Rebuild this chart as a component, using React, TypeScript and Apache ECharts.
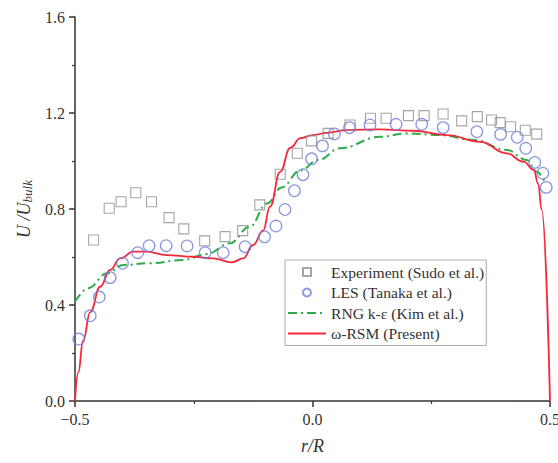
import React, { useEffect, useRef } from "react";
import * as echarts from "echarts";

const expR = [-0.461, -0.428, -0.403, -0.372, -0.339, -0.302, -0.271, -0.227, -0.184, -0.147, -0.111, -0.068, -0.032, -0.002, 0.033, 0.079, 0.122, 0.155, 0.202, 0.235, 0.275, 0.314, 0.347, 0.377, 0.395, 0.417, 0.448, 0.472];
const expU = [0.671, 0.803, 0.830, 0.868, 0.830, 0.764, 0.717, 0.667, 0.685, 0.710, 0.817, 0.945, 1.032, 1.084, 1.115, 1.150, 1.178, 1.178, 1.189, 1.189, 1.196, 1.167, 1.185, 1.171, 1.160, 1.143, 1.128, 1.112];

const lesR = [-0.492, -0.468, -0.449, -0.426, -0.400, -0.368, -0.344, -0.308, -0.264, -0.226, -0.188, -0.142, -0.101, -0.077, -0.058, -0.038, -0.020, -0.002, 0.021, 0.046, 0.078, 0.121, 0.176, 0.230, 0.275, 0.346, 0.396, 0.431, 0.449, 0.468, 0.485, 0.492];
const lesU = [0.258, 0.355, 0.433, 0.514, 0.574, 0.618, 0.647, 0.647, 0.646, 0.618, 0.618, 0.643, 0.684, 0.729, 0.798, 0.876, 0.943, 1.009, 1.063, 1.113, 1.139, 1.150, 1.153, 1.153, 1.139, 1.122, 1.111, 1.099, 1.053, 0.994, 0.949, 0.890];

const rngR = [-0.5, -0.472, -0.433, -0.398, -0.342, -0.272, -0.223, -0.174, -0.132, -0.096, -0.065, -0.026, 0.012, 0.058, 0.142, 0.198, 0.268, 0.339, 0.409, 0.451, 0.472, 0.489];
const rngU = [0.414, 0.47, 0.532, 0.567, 0.574, 0.588, 0.612, 0.657, 0.726, 0.823, 0.89, 0.96, 1.004, 1.053, 1.101, 1.115, 1.108, 1.088, 1.046, 1.004, 0.955, 0.914];

const rsmR = [-0.5, -0.493, -0.483, -0.468, -0.447, -0.426, -0.405, -0.377, -0.349, -0.307, -0.251, -0.209, -0.170, -0.146, -0.125, -0.104, -0.0895, -0.068, -0.047, -0.025, 0.0, 0.03, 0.072, 0.142, 0.212, 0.2825, 0.353, 0.409, 0.444, 0.466, 0.475, 0.4825, 0.5];
const rsmU = [0, 0.12, 0.25, 0.37, 0.476, 0.546, 0.594, 0.622, 0.622, 0.608, 0.601, 0.594, 0.578, 0.594, 0.65, 0.71, 0.81, 0.955, 1.055, 1.095, 1.108, 1.117, 1.129, 1.132, 1.126, 1.108, 1.08, 1.032, 0.997, 0.9625, 0.906, 0.796, 0];

const seriesNames = ["Experiment (Sudo et al.)", "LES (Tanaka et al.)", "RNG k-ε (Kim et al.)", "ω-RSM (Present)"];

const pairs = (xs: number[], ys: number[]) => xs.map((x, i) => [x, ys[i]]);

const SERIF = "Liberation Serif";

export default function App() {
  const ref = useRef<HTMLDivElement>(null);
  useEffect(() => {
    if (!ref.current) return;
    const chart = echarts.init(ref.current, undefined, { renderer: "svg" });
    const fmtX = (v: number) => (v < 0 ? "\u2212" + Math.abs(v).toFixed(1) : v.toFixed(1));
    const hidden = { color: "rgba(0,0,0,0)", borderColor: "rgba(0,0,0,0)", borderWidth: 0 };
    chart.setOption({
      animation: false,
      backgroundColor: "#fff",
      textStyle: { fontFamily: SERIF },
      grid: { left: 75, right: 8, top: 17, bottom: 62, outerBoundsMode: "none", containLabel: false },
      xAxis: {
        type: "value",
        min: -0.5,
        max: 0.5,
        interval: 0.5,
        name: "r/R",
        nameLocation: "middle",
        nameGap: 36,
        nameTextStyle: { fontFamily: SERIF, fontSize: 18, fontStyle: "italic", color: "#333" },
        axisLine: { show: true, onZero: false, lineStyle: { color: "#333", width: 1.5 } },
        axisTick: { show: true, length: 6, lineStyle: { color: "#333", width: 1.5 } },
        minorTick: { show: true, splitNumber: 2, length: 3, lineStyle: { color: "#333", width: 1.2 } },
        splitLine: { show: false },
        axisLabel: { formatter: fmtX, fontFamily: SERIF, fontSize: 16, color: "#333", margin: 10 },
      },
      yAxis: {
        type: "value",
        min: 0,
        max: 1.6,
        interval: 0.4,
        name: "{a|U /U}{b|bulk}",
        nameLocation: "middle",
        nameGap: 40,
        nameRotate: 90,
        nameTextStyle: {
          fontFamily: SERIF,
          fontSize: 18,
          fontStyle: "italic",
          color: "#333",
          rich: {
            a: { fontFamily: SERIF, fontSize: 18, fontStyle: "italic", color: "#333" },
            b: { fontFamily: SERIF, fontSize: 13, fontStyle: "italic", color: "#333", verticalAlign: "bottom", padding: [8, 0, 0, 0] },
          },
        },
        axisLine: { show: true, onZero: false, lineStyle: { color: "#333", width: 1.5 } },
        axisTick: { show: true, length: 6, lineStyle: { color: "#333", width: 1.5 } },
        minorTick: { show: true, splitNumber: 2, length: 3, lineStyle: { color: "#333", width: 1.2 } },
        splitLine: { show: false },
        axisLabel: { formatter: (v: number) => v.toFixed(1), fontFamily: SERIF, fontSize: 16, color: "#333", margin: 10 },
      },
      legend: {
        orient: "vertical",
        left: 285,
        top: 260,
        padding: [4, 2, 4, 2],
        itemWidth: 38,
        itemHeight: 8,
        itemGap: 4.5,
        borderColor: "#aaa",
        borderWidth: 1,
        backgroundColor: "#fff",
        textStyle: { fontFamily: SERIF, fontSize: 15.6, color: "#333", lineHeight: 16 },
        data: [
          { name: seriesNames[0], icon: "path://M0,0L10,0L10,10L0,10Z" },
          { name: seriesNames[1], icon: "circle" },
          { name: seriesNames[2], itemStyle: hidden },
          { name: seriesNames[3], itemStyle: hidden },
        ],
      },
      series: [
        {
          name: seriesNames[2],
          type: "line",
          data: pairs(rngR, rngU),
          symbol: "none",
          smooth: 0.4,
          smoothMonotone: "x",
          lineStyle: { color: "#2fa94a", width: 2, type: [9, 4, 2, 4] },
          itemStyle: { color: "#2fa94a" },
          z: 2,
        },
        {
          name: seriesNames[3],
          type: "line",
          data: pairs(rsmR, rsmU),
          symbol: "none",
          smooth: 0.45,
          smoothMonotone: "x",
          lineStyle: { color: "#f5283c", width: 1.8 },
          itemStyle: { color: "#f5283c" },
          z: 3,
        },
        {
          name: seriesNames[0],
          type: "scatter",
          data: pairs(expR, expU),
          symbol: "rect",
          symbolSize: 10,
          itemStyle: { color: "rgba(255,255,255,0)", borderColor: "#8e8e8e", borderWidth: 1.1 },
          z: 4,
        },
        {
          name: seriesNames[1],
          type: "scatter",
          data: pairs(lesR, lesU),
          symbol: "circle",
          symbolSize: 11.5,
          itemStyle: { color: "rgba(255,255,255,0)", borderColor: "#6f7fd6", borderWidth: 1.3 },
          z: 5,
        },
      ],
    });
    return () => chart.dispose();
  }, []);
  return <div ref={ref} style={{ position: "absolute", left: 0, top: 0, width: 558, height: 463 }} />;
}
